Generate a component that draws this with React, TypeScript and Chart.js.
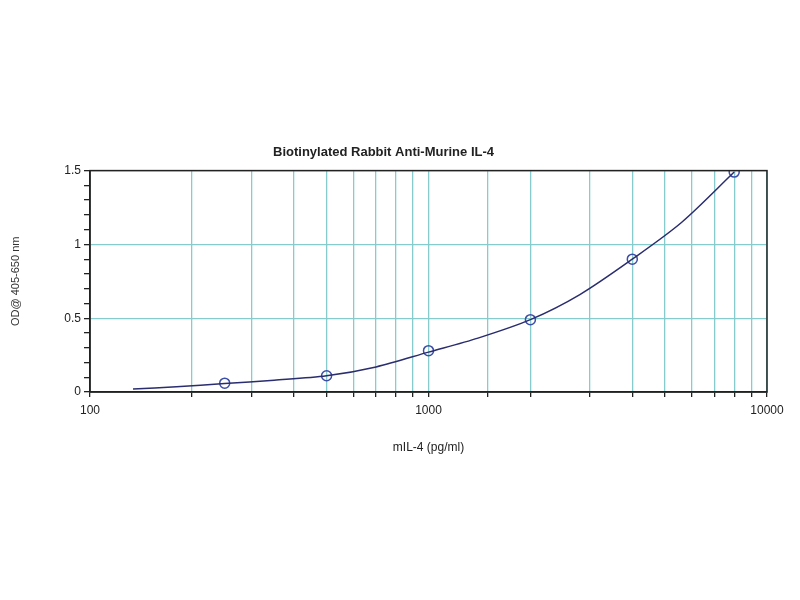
import { useEffect, useRef } from 'react'
import { Chart, ChartConfiguration, registerables } from 'chart.js'

Chart.register(...registerables)

// standard concentrations (pg/ml) and measured OD
const concentrations = [250, 500, 1000, 2000, 4000, 8000]
const odValues = [0.06, 0.11, 0.28, 0.49, 0.9, 1.49]

// fitted curve
const curveX = [134, 180, 250, 350, 500, 700, 1000, 1400, 2000, 2800, 4000, 5600, 8000]
const curveY = [0.02, 0.035, 0.057, 0.08, 0.11, 0.17, 0.27, 0.365, 0.49, 0.66, 0.9, 1.15, 1.49]

const yTicksMajor = [0, 0.5, 1, 1.5]

const GRID = '#86cccc'
const FONT = '"Liberation Sans", Arial, sans-serif'

const frame = {
  id: 'frame',
  afterDraw(chart: Chart) {
    const { ctx, chartArea } = chart
    ctx.save()
    ctx.strokeStyle = '#222'
    ctx.lineWidth = 1.5
    ctx.strokeRect(chartArea.left, chartArea.top, chartArea.right - chartArea.left, chartArea.bottom - chartArea.top)
    ctx.restore()
  },
}

export default function App() {
  const canvasRef = useRef<HTMLCanvasElement>(null)

  useEffect(() => {
    if (!canvasRef.current) return
    const ctx = canvasRef.current.getContext('2d')
    if (!ctx) return

    const isMajorY = (v: number) => yTicksMajor.some((m) => Math.abs(m - v) < 1e-6)

    const config: ChartConfiguration = {
      type: 'scatter',
      data: {
        datasets: [
          {
            label: 'fit',
            data: curveX.map((x, i) => ({ x, y: curveY[i] })),
            showLine: true,
            borderColor: '#2a2d6e',
            borderWidth: 1.5,
            pointRadius: 0,
            tension: 0.3,
          },
          {
            label: 'standards',
            data: concentrations.map((x, i) => ({ x, y: odValues[i] })),
            showLine: false,
            pointRadius: 5,
            pointBorderWidth: 1.5,
            pointBorderColor: '#3c4ea8',
            pointBackgroundColor: 'rgba(255,255,255,0)',
          },
        ],
      },
      options: {
        animation: false,
        responsive: false,
        layout: { padding: { top: 145, right: 33, left: 0, bottom: 141 } },
        plugins: {
          legend: { display: false },
          tooltip: { enabled: false },
          title: {
            display: true,
            text: 'Biotinylated Rabbit Anti-Murine IL-4',
            color: '#222',
            font: { family: FONT, size: 13, weight: 'bold' },
            padding: { top: 0, bottom: 10 },
          },
        },
        scales: {
          x: {
            type: 'logarithmic',
            min: 100,
            max: 10000,
            border: { color: '#222', width: 1.5 },
            grid: {
              color: GRID,
              lineWidth: 1.3,
              tickColor: '#222',
              tickLength: 5,
            },
            ticks: {
              autoSkip: false,
              maxRotation: 0,
              padding: 6,
              color: '#222',
              font: { family: FONT, size: 12 },
              callback: (v) => {
                const l = Math.log10(Number(v))
                return Math.abs(l - Math.round(l)) < 1e-6 ? String(v) : ''
              },
            },
            title: {
              display: true,
              text: 'mIL-4 (pg/ml)',
              color: '#222',
              font: { family: FONT, size: 12 },
            },
            afterFit: (scale) => {
              scale.height = 67
            },
          },
          y: {
            min: 0,
            max: 1.5,
            border: { color: '#222', width: 1.5 },
            grid: {
              color: (c) => (isMajorY(c.tick.value) ? GRID : 'rgba(0,0,0,0)'),
              lineWidth: 1.3,
              tickColor: '#222',
              tickLength: 6,
            },
            ticks: {
              stepSize: 0.1,
              autoSkip: false,
              padding: 3,
              color: '#222',
              font: { family: FONT, size: 12 },
              callback: (v) => (isMajorY(Number(v)) ? String(Number(v)) : ''),
            },
            title: {
              display: true,
              text: 'OD@ 405-650 nm',
              color: '#333',
              font: { family: FONT, size: 11 },
              padding: { top: 9, bottom: 4 },
            },
            afterFit: (scale) => {
              scale.width = 90
            },
          },
        },
      },
      plugins: [frame],
    }

    const chart = new Chart(ctx, config)
    return () => {
      chart.destroy()
    }
  }, [])

  return (
    <div style={{ position: 'fixed', left: 0, top: 0, width: 800, height: 600, background: '#fff' }}>
      <canvas ref={canvasRef} width={800} height={600} />
    </div>
  )
}
